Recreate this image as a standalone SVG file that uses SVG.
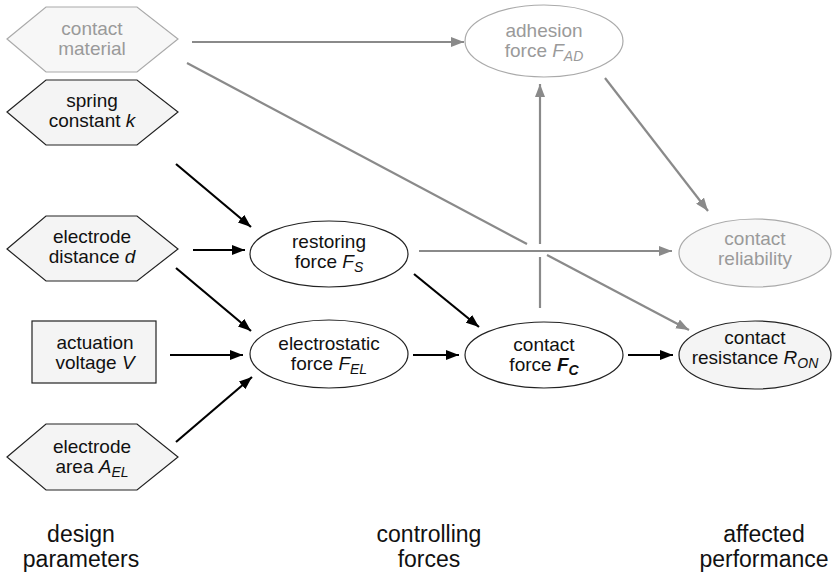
<svg xmlns="http://www.w3.org/2000/svg" width="832" height="575" viewBox="0 0 832 575">
<style>
  .t { font-family: "Liberation Sans", Arial, sans-serif; font-size: 19px; text-anchor: middle; fill: #111; }
  .g { fill: #9a9a9a; }
  .lbl { font-family: "Liberation Sans", Arial, sans-serif; font-size: 23px; text-anchor: middle; fill: #111; }
  .sub { font-size: 14px; }
  .node { fill: #f4f4f4; stroke: #222; stroke-width: 1.2; }
  .wnode { fill: #ffffff; stroke: #222; stroke-width: 1.2; }
  .gnode { fill: #f7f7f7; stroke: #aaa; stroke-width: 1.2; }
  .bk { stroke: #000; stroke-width: 2.2; fill: none; }
  .gr { stroke: #8a8a8a; stroke-width: 2.2; fill: none; }
</style>
<defs>
  <marker id="ab" markerUnits="userSpaceOnUse" markerWidth="14" markerHeight="10" refX="13" refY="5" orient="auto">
    <path d="M0,0 L13,5 L0,10 z" fill="#000"/>
  </marker>
  <marker id="ag" markerUnits="userSpaceOnUse" markerWidth="14" markerHeight="10" refX="13" refY="5" orient="auto">
    <path d="M0,0 L13,5 L0,10 z" fill="#8a8a8a"/>
  </marker>
</defs>

<g id="connectors">
  <!-- gray -->
  <line class="gr" x1="192" y1="42" x2="464" y2="42" marker-end="url(#ag)"/>
  <line class="gr" x1="187" y1="63" x2="527" y2="244"/>
  <line class="gr" x1="547" y1="255" x2="689" y2="330" marker-end="url(#ag)"/>
  <line class="gr" x1="419" y1="251" x2="672" y2="251" marker-end="url(#ag)"/>
  <line class="gr" x1="540" y1="308" x2="540" y2="257"/>
  <line class="gr" x1="540" y1="244" x2="540" y2="84" marker-end="url(#ag)"/>
  <line class="gr" x1="605" y1="78" x2="708" y2="211" marker-end="url(#ag)"/>
  <!-- black -->
  <line class="bk" x1="176" y1="164" x2="251" y2="227" marker-end="url(#ab)"/>
  <line class="bk" x1="193" y1="250" x2="245" y2="250" marker-end="url(#ab)"/>
  <line class="bk" x1="176" y1="268" x2="251" y2="331" marker-end="url(#ab)"/>
  <line class="bk" x1="170" y1="355" x2="243" y2="355" marker-end="url(#ab)"/>
  <line class="bk" x1="176" y1="442" x2="252" y2="377" marker-end="url(#ab)"/>
  <line class="bk" x1="414" y1="274" x2="479" y2="327" marker-end="url(#ab)"/>
  <line class="bk" x1="413" y1="355" x2="459" y2="355" marker-end="url(#ab)"/>
  <line class="bk" x1="628" y1="355" x2="673" y2="355" marker-end="url(#ab)"/>
</g>

<g id="contact-material">
  <polygon class="gnode" points="7,39 46,7 137,7 178,39 137,72 46,72"/>
  <text class="t g" x="92" y="35">contact</text>
  <text class="t g" x="92" y="55">material</text>
</g>

<g id="spring-constant">
  <polygon class="node" points="7,112 46,80 137,80 178,112 137,145 46,145"/>
  <text class="t" x="92" y="107">spring</text>
  <text class="t" x="92" y="127">constant <tspan font-style="italic">k</tspan></text>
</g>

<g id="electrode-distance">
  <polygon class="node" points="7,249 46,216 137,216 178,249 137,281 46,281"/>
  <text class="t" x="92" y="243">electrode</text>
  <text class="t" x="92" y="263">distance <tspan font-style="italic">d</tspan></text>
</g>

<g id="actuation-voltage">
  <rect class="node" x="32" y="321" width="124" height="62"/>
  <text class="t" x="95" y="349">actuation</text>
  <text class="t" x="95" y="369">voltage <tspan font-style="italic">V</tspan></text>
</g>

<g id="electrode-area">
  <polygon class="node" points="7,457 46,424 137,424 178,457 137,490 46,490"/>
  <text class="t" x="92" y="453">electrode</text>
  <text class="t" x="92" y="473">area <tspan font-style="italic">A<tspan class="sub" dy="4">EL</tspan></tspan></text>
</g>

<g id="restoring-force">
  <ellipse class="wnode" cx="329" cy="254" rx="79" ry="33"/>
  <text class="t" x="329" y="248">restoring</text>
  <text class="t" x="329" y="268">force <tspan font-style="italic">F<tspan class="sub" dy="4">S</tspan></tspan></text>
</g>

<g id="electrostatic-force">
  <ellipse class="wnode" cx="329" cy="354" rx="79" ry="34"/>
  <text class="t" x="329" y="350">electrostatic</text>
  <text class="t" x="329" y="370">force <tspan font-style="italic">F<tspan class="sub" dy="4">EL</tspan></tspan></text>
</g>

<g id="adhesion-force">
  <ellipse class="gnode" cx="544" cy="41" rx="79" ry="36" style="fill:#fff"/>
  <text class="t g" x="544" y="37">adhesion</text>
  <text class="t g" x="544" y="57">force <tspan font-style="italic">F<tspan class="sub" dy="4">AD</tspan></tspan></text>
</g>

<g id="contact-force">
  <ellipse class="wnode" cx="544" cy="355" rx="79" ry="33"/>
  <text class="t" x="544" y="351">contact</text>
  <text class="t" x="544" y="371">force <tspan font-style="italic" font-weight="bold">F<tspan class="sub" dy="4">C</tspan></tspan></text>
</g>

<g id="contact-reliability">
  <ellipse class="gnode" cx="755" cy="253" rx="76" ry="34"/>
  <text class="t g" x="755" y="245">contact</text>
  <text class="t g" x="755" y="265">reliability</text>
</g>

<g id="contact-resistance">
  <ellipse class="node" cx="755" cy="355" rx="76" ry="34"/>
  <text class="t" x="755" y="344">contact</text>
  <text class="t" x="755" y="364">resistance <tspan font-style="italic">R<tspan class="sub" dy="4">ON</tspan></tspan></text>
</g>

<g id="labels">
  <text class="lbl" x="81" y="542">design</text>
  <text class="lbl" x="81" y="567">parameters</text>
  <text class="lbl" x="429" y="542">controlling</text>
  <text class="lbl" x="429" y="567">forces</text>
  <text class="lbl" x="764" y="542">affected</text>
  <text class="lbl" x="764" y="567">performance</text>
</g>
</svg>
